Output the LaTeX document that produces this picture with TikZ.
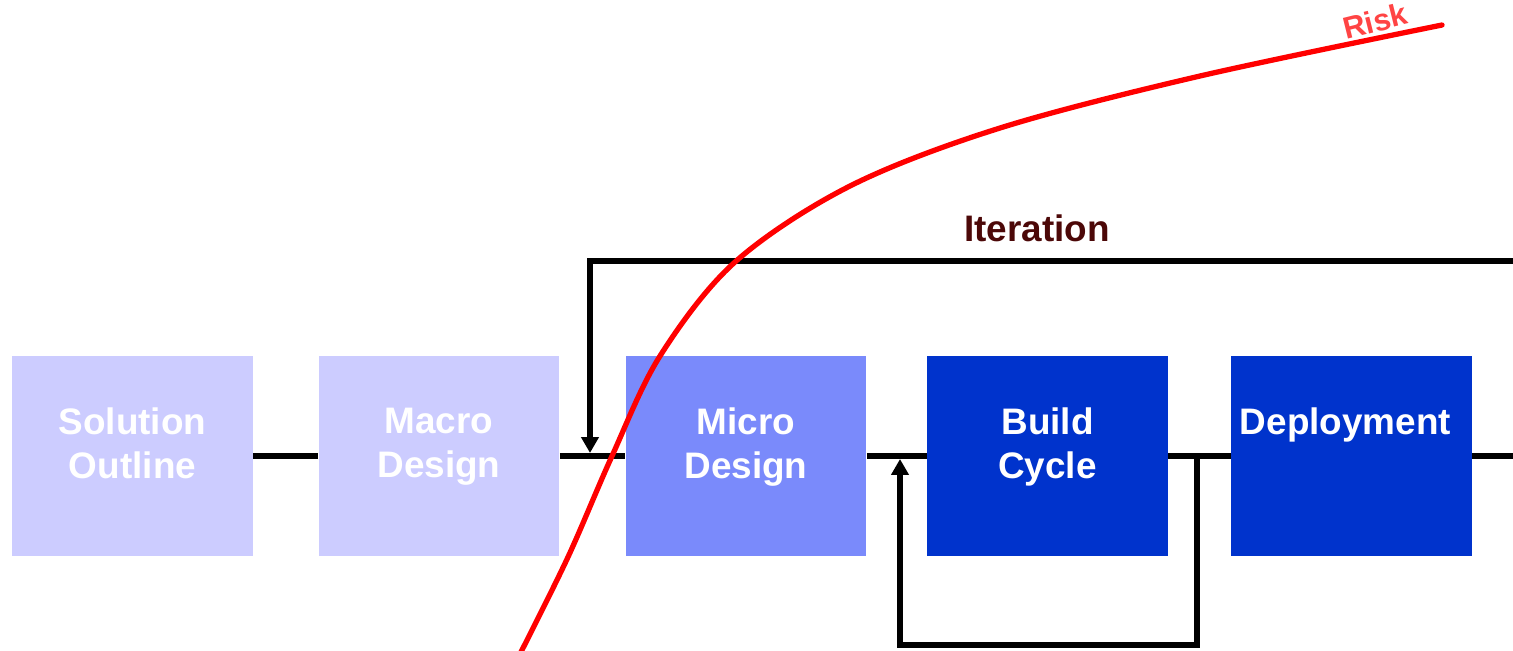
\documentclass[tikz,border=0pt]{standalone}
\usepackage{fontspec}
\setmainfont{Liberation Sans}
\usetikzlibrary{arrows.meta}
\definecolor{phaselight}{HTML}{CCCCFF}
\definecolor{phasemid}{HTML}{7A8AFB}
\definecolor{phasedark}{HTML}{0033CC}
\definecolor{iterred}{HTML}{4C0808}
\definecolor{risktext}{HTML}{FF4444}
\tikzset{
  phase/.style={draw=none, minimum width=4.82cm, minimum height=4cm, inner sep=0pt},
  phasetext/.style={anchor=north, inner sep=0pt, align=center, text=white,
    font=\fontsize{21pt}{25pt}\selectfont\bfseries},
  flow/.style={line width=3.3pt, line cap=butt},
  loop/.style={line width=3.3pt, -{Triangle[length=9pt,width=9.6pt]}},
}
\begin{document}
\begin{tikzpicture}[x=0.02cm, y=-0.02cm]
\useasboundingbox (0,0) rectangle (1513,650);

% phase boxes
\node[phase, fill=phaselight] (sol) at (132.5,456) {};
\node[phase, fill=phaselight] (mac) at (439,456) {};
\node[phase, fill=phasemid]   (mic) at (746,456) {};
\node[phase, fill=phasedark]  (bld) at (1047.5,456) {};
\node[phase, fill=phasedark]  (dep) at (1351.5,456) {};

% phase titles, hung from the top of each box
\node[phasetext] (solt) at ([yshift=-1.04cm]sol.north) {Solution\\Outline};
\node[phasetext] (mact) at ([yshift=-1.04cm]mac.north) {Macro\\Design};
\node[phasetext] (mict) at ([yshift=-1.04cm]mic.north) {Micro\\Design};
\node[phasetext] (bldt) at ([yshift=-1.04cm]bld.north) {Build\\Cycle};
\node[phasetext] (dept) at ([xshift=-0.12cm,yshift=-1.04cm]dep.north) {Deployment};

% main flow line
\coordinate (endflow) at (1513,456);
\draw[flow] (sol.east) -- (mac.west);
\draw[flow] (mac.east) -- (mic.west);
\draw[flow] (mic.east) -- (bld.west);
\draw[flow] (bld.east) -- (dep.west);
\draw[flow] (dep.east) -- (endflow);

% iteration loop back into micro design
\coordinate (itstart) at (1513,261);
\coordinate (itcorner) at (590,261);
\coordinate (itend) at (590,453);
\draw[loop] (itstart) -- (itcorner) -- (itend);
\node[font=\fontsize{21pt}{25pt}\selectfont\bfseries, text=iterred] (itlabel) at (1037,228) {Iteration};

% build cycle loop
\coordinate (bcstart) at (1197,456);
\coordinate (bcdown) at (1197,645);
\coordinate (bcleft) at (900,645);
\coordinate (bcend) at (900,459);
\draw[loop] (bcstart) -- (bcdown) -- (bcleft) -- (bcend);

% risk curve
\draw[red, line width=3pt, line cap=round]
  plot[smooth, tension=0.55] coordinates {(521,652) (568,557) (612,456) (660,356) (735,262) (850,186) (1000,128) (1200,76) (1442,25)};
\node[inner sep=0pt, font=\fontsize{17.5pt}{20pt}\selectfont\bfseries, text=risktext, rotate=14] (risk) at (1375,21) {Risk};
\end{tikzpicture}
\end{document}
